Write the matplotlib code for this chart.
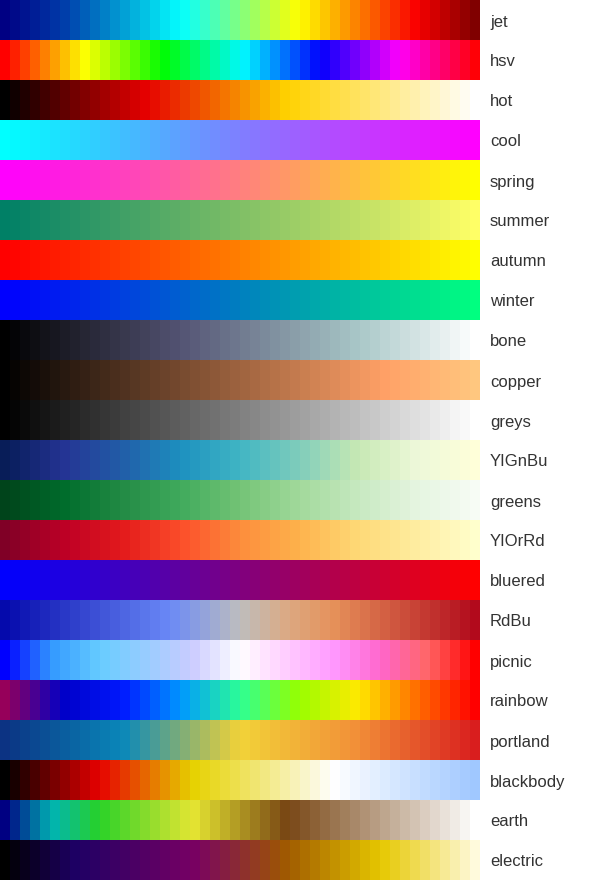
import numpy as np
import matplotlib
matplotlib.use("Agg")
import matplotlib.pyplot as plt
from matplotlib.colors import LinearSegmentedColormap

# colour scales: (position, rgb) control points per named map
names = ["jet", "hsv", "hot", "cool", "spring", "summer", "autumn", "winter",
         "bone", "copper", "greys", "YIGnBu", "greens", "YIOrRd", "bluered",
         "RdBu", "picnic", "rainbow", "portland", "blackbody", "earth", "electric"]

jet = [(0, (0, 0, 131)), (0.125, (0, 60, 170)), (0.375, (5, 255, 255)),
       (0.625, (255, 255, 0)), (0.875, (250, 0, 0)), (1, (128, 0, 0))]
hsv = [(0, (255, 0, 0)), (0.169, (253, 255, 2)), (0.173, (247, 255, 2)),
       (0.337, (0, 252, 4)), (0.341, (0, 252, 10)), (0.506, (1, 249, 255)),
       (0.671, (2, 0, 253)), (0.675, (8, 0, 253)), (0.839, (255, 0, 251)),
       (0.843, (255, 0, 245)), (1, (255, 0, 6))]
hot = [(0, (0, 0, 0)), (0.3, (230, 0, 0)), (0.6, (255, 210, 0)), (1, (255, 255, 255))]
cool = [(0, (0, 255, 255)), (1, (255, 0, 255))]
spring = [(0, (255, 0, 255)), (1, (255, 255, 0))]
summer = [(0, (0, 128, 102)), (1, (255, 255, 102))]
autumn = [(0, (255, 0, 0)), (1, (255, 255, 0))]
winter = [(0, (0, 0, 255)), (1, (0, 255, 128))]
bone = [(0, (0, 0, 0)), (0.376, (84, 84, 116)), (0.753, (169, 200, 200)), (1, (255, 255, 255))]
copper = [(0, (0, 0, 0)), (0.804, (255, 160, 102)), (1, (255, 199, 127))]
greys = [(0, (0, 0, 0)), (1, (255, 255, 255))]
yignbu = [(0, (8, 29, 88)), (0.125, (37, 52, 148)), (0.25, (34, 94, 168)),
          (0.375, (29, 145, 192)), (0.5, (65, 182, 196)), (0.625, (127, 205, 187)),
          (0.75, (199, 233, 180)), (0.875, (237, 248, 217)), (1, (255, 255, 217))]
greens = [(0, (0, 68, 27)), (0.125, (0, 109, 44)), (0.25, (35, 139, 69)),
          (0.375, (65, 171, 93)), (0.5, (116, 196, 118)), (0.625, (161, 217, 155)),
          (0.75, (199, 233, 192)), (0.875, (229, 245, 224)), (1, (247, 252, 245))]
yiorrd = [(0, (128, 0, 38)), (0.125, (189, 0, 38)), (0.25, (227, 26, 28)),
          (0.375, (252, 78, 42)), (0.5, (253, 141, 60)), (0.625, (254, 178, 76)),
          (0.75, (254, 217, 118)), (0.875, (255, 237, 160)), (1, (255, 255, 204))]
bluered = [(0, (0, 0, 255)), (1, (255, 0, 0))]
rdbu = [(0, (5, 10, 172)), (0.35, (106, 137, 247)), (0.5, (190, 190, 190)),
        (0.6, (220, 170, 132)), (0.7, (230, 145, 90)), (1, (178, 10, 28))]
picnic = [(0, (0, 0, 255)), (0.1, (51, 153, 255)), (0.2, (102, 204, 255)),
          (0.3, (153, 204, 255)), (0.4, (204, 204, 255)), (0.5, (255, 255, 255)),
          (0.6, (255, 204, 255)), (0.7, (255, 153, 255)), (0.8, (255, 102, 204)),
          (0.9, (255, 102, 102)), (1, (255, 0, 0))]
rainbow = [(0, (150, 0, 90)), (0.125, (0, 0, 200)), (0.25, (0, 25, 255)),
           (0.375, (0, 152, 255)), (0.5, (44, 255, 150)), (0.625, (151, 255, 0)),
           (0.75, (255, 234, 0)), (0.875, (255, 111, 0)), (1, (255, 0, 0))]
portland = [(0, (12, 51, 131)), (0.25, (10, 136, 186)), (0.5, (242, 211, 56)),
            (0.75, (242, 143, 56)), (1, (217, 30, 30))]
blackbody = [(0, (0, 0, 0)), (0.2, (230, 0, 0)), (0.4, (230, 210, 0)),
             (0.7, (255, 255, 255)), (1, (160, 200, 255))]
earth = [(0, (0, 0, 130)), (0.1, (0, 180, 180)), (0.2, (40, 210, 40)),
         (0.4, (230, 230, 50)), (0.6, (120, 70, 20)), (1, (255, 255, 255))]
electric = [(0, (0, 0, 0)), (0.15, (30, 0, 100)), (0.4, (120, 0, 100)),
            (0.6, (160, 90, 0)), (0.8, (230, 200, 0)), (1, (255, 250, 220))]

scales = [jet, hsv, hot, cool, spring, summer, autumn, winter, bone, copper, greys,
          yignbu, greens, yiorrd, bluered, rdbu, picnic, rainbow, portland,
          blackbody, earth, electric]

nshades = 48

fig = plt.figure(figsize=(6, 8.8), dpi=100)
ax = fig.add_axes([0, 0, 1, 1])
ax.axis("off")

row_h = 40
bar_w = 480
for i, (name, pts) in enumerate(zip(names, scales)):
    cmap = LinearSegmentedColormap.from_list(
        name, [(p, np.array(c) / 255.0) for p, c in pts], N=nshades)
    y0 = i * row_h
    ax.imshow(np.arange(nshades)[None, :], cmap=cmap, aspect="auto",
              interpolation="nearest", extent=(0, bar_w, y0 + row_h, y0),
              vmin=0, vmax=nshades - 1)
    # label sits on a baseline a bit below the row middle
    ax.text(bar_w + 10, y0 + 26.5, name, fontsize=12, color="#333333",
            family="Liberation Sans", va="baseline", ha="left")

ax.set_xlim(0, 600)
ax.set_ylim(880, 0)
fig.savefig("out.png", dpi=100)
